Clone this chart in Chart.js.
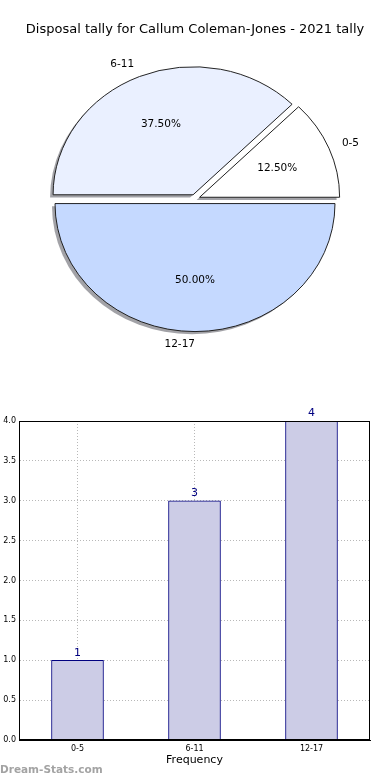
<!DOCTYPE html>
<html>
<head>
<meta charset="utf-8">
<script src="https://cdn.jsdelivr.net/npm/chart.js@4/dist/chart.umd.min.js"></script>
<style>
    html, body { margin: 0; padding: 0; background: #fff; }
    body { width: 390px; height: 780px; position: relative; overflow: hidden; }
    #pie-wrap { position: absolute; left: 0; top: 0; width: 390px; height: 380px; }
    #bar-wrap { position: absolute; left: 0; top: 380px; width: 390px; height: 400px; }
</style>
</head>
<body>
<div id="pie-wrap"><canvas id="pie-canvas"></canvas></div>
<div id="bar-wrap"><canvas id="bar-canvas"></canvas></div>
<script>
// ========== Data
let ageBands = ['0-5', '6-11', '12-17'];
let disposalCounts = [1, 3, 4];
let yTicks = [0, 0.5, 1, 1.5, 2, 2.5, 3, 3.5, 4];
let chartTitle = 'Disposal tally for Callum Coleman-Jones - 2021 tally';

// ========== Colors
let sliceColors = ['#FFFFFF', '#EAF0FF', '#C5D9FF'];
let barFill = '#CCCCE6';
let barEdge = '#000080';
let gridColor = '#b8b8b8';
let fontFamily = "'DejaVu Sans', sans-serif";

Chart.defaults.font.family = fontFamily;
Chart.defaults.color = '#000';
Chart.defaults.animation = false;

// pie is drawn a bit flatter than a circle, like the reference
let squash = 128 / 140;
// how far each wedge is pulled out (px), like matplotlib explode
let explodePx = 5;

// @ ========== Pie
function renderPie() {
    // matplotlib goes counter-clockwise from 3 o'clock, Chart.js clockwise, so flip order
    let order = [2, 1, 0];
    let total = disposalCounts.reduce((a, b) => a + b, 0);

    let ellipsePlugin = {
        id: 'ellipse',
        beforeDatasetsDraw(chart) {
            let ctx = chart.ctx;
            let arcs = chart.getDatasetMeta(0).data;
            let cx = arcs[0].x, cy = arcs[0].y;

            // Chart.js' own offset also grows the radius, so shift each wedge ourselves
            arcs.forEach(arc => {
                if (arc._exploded) return;
                let baseDraw = arc.draw;
                arc.draw = function (c, area) {
                    let mid = (this.startAngle + this.endAngle) / 2;
                    c.save();
                    c.translate(Math.cos(mid) * explodePx, Math.sin(mid) * explodePx);
                    baseDraw.call(this, c, area);
                    c.restore();
                };
                arc._exploded = true;
            });

            ctx.save();
            ctx.translate(cx, cy);
            ctx.scale(1, squash);
            ctx.translate(-cx, -cy);
            // shadows under all the wedges
            ctx.save();
            ctx.translate(-3, 3);
            ctx.fillStyle = 'rgba(70,70,80,0.5)';
            arcs.forEach(arc => {
                let mid = (arc.startAngle + arc.endAngle) / 2;
                let ox = arc.x + Math.cos(mid) * explodePx;
                let oy = arc.y + Math.sin(mid) * explodePx;
                ctx.beginPath();
                ctx.moveTo(ox, oy);
                ctx.arc(ox, oy, arc.outerRadius, arc.startAngle, arc.endAngle);
                ctx.closePath();
                ctx.fill();
            });
            ctx.restore();
        },
        afterDatasetsDraw(chart) {
            let ctx = chart.ctx;
            ctx.restore();
            let arcs = chart.getDatasetMeta(0).data;
            ctx.save();
            ctx.font = '10.5px ' + fontFamily;
            ctx.fillStyle = '#000';
            ctx.textBaseline = 'middle';
            arcs.forEach((arc, i) => {
                let idx = order[i];
                let mid = (arc.startAngle + arc.endAngle) / 2;
                let c = Math.cos(mid), s = Math.sin(mid);
                // category label outside
                let lr = arc.outerRadius * 1.1 + explodePx;
                ctx.textAlign = c > 0.01 ? 'left' : 'right';
                ctx.fillText(ageBands[idx], arc.x + c * lr, arc.y + s * lr * squash);
                // percent inside
                let pr = arc.outerRadius * 0.6 + explodePx;
                ctx.textAlign = 'center';
                let pct = (disposalCounts[idx] / total * 100).toFixed(2) + '%';
                ctx.fillText(pct, arc.x + c * pr, arc.y + s * pr * squash);
            });
            ctx.restore();
        }
    };

    let pieCanvas = document.getElementById('pie-canvas');
    return new Chart(pieCanvas, {
        type: 'pie',
        data: {
            labels: order.map(i => ageBands[i]),
            datasets: [{
                data: order.map(i => disposalCounts[i]),
                backgroundColor: order.map(i => sliceColors[i]),
                borderColor: '#1a1a1a',
                borderWidth: 1,
                offset: 0,
                hoverOffset: 0
            }]
        },
        options: {
            responsive: true,
            maintainAspectRatio: false,
            rotation: 90,
            radius: 140,
            layout: { padding: { bottom: 19.8 } },
            events: [],
            plugins: {
                legend: { display: false },
                tooltip: { enabled: false },
                title: {
                    display: true,
                    text: chartTitle,
                    color: '#000',
                    font: { family: fontFamily, size: 13, weight: 'normal' },
                    padding: { top: 22.2, bottom: 0 }
                }
            }
        },
        plugins: [ellipsePlugin]
    });
}

// @ ========== Bars
function renderBars() {
    let barLabelPlugin = {
        id: 'barLabels',
        afterDatasetsDraw(chart) {
            let ctx = chart.ctx;
            ctx.save();
            ctx.font = '11px ' + fontFamily;
            ctx.fillStyle = barEdge;
            ctx.textAlign = 'center';
            ctx.textBaseline = 'bottom';
            chart.getDatasetMeta(0).data.forEach((bar, i) => {
                ctx.fillText(String(disposalCounts[i]), bar.x, bar.y - 2);
            });
            ctx.restore();
        },
        afterDraw(chart) {
            let ctx = chart.ctx;
            let a = chart.chartArea;
            ctx.save();
            ctx.strokeStyle = '#000';
            ctx.lineWidth = 1;
            let l = Math.round(a.left) + 0.5, t = Math.round(a.top) + 0.5;
            let r = Math.round(a.right) - 0.5, b = Math.round(a.bottom) - 0.5;
            ctx.strokeRect(l, t, r - l, b - t);
            // watermark
            ctx.font = 'bold 10.5px ' + fontFamily;
            ctx.fillStyle = '#a3a3a3';
            ctx.textAlign = 'left';
            ctx.textBaseline = 'middle';
            ctx.fillText('Dream-Stats.com', 0, 390);
            ctx.restore();
        }
    };

    let barCanvas = document.getElementById('bar-canvas');
    return new Chart(barCanvas, {
        type: 'bar',
        data: {
            labels: ageBands,
            datasets: [{
                data: disposalCounts,
                backgroundColor: barFill,
                borderColor: barEdge,
                borderWidth: 1,
                barThickness: 52
            }]
        },
        options: {
            responsive: true,
            maintainAspectRatio: false,
            events: [],
            layout: { padding: { top: 41, right: 20, left: 0, bottom: 0 } },
            plugins: {
                legend: { display: false },
                tooltip: { enabled: false }
            },
            scales: {
                x: {
                    z: 1,
                    afterFit(scale) { scale.height = 40; },
                    grid: { offset: false, color: gridColor, lineWidth: 1, drawTicks: false },
                    border: { display: true, color: '#000', dash: [1, 2] },
                    ticks: { font: { size: 8 }, color: '#000', padding: 4, maxRotation: 0 },
                    title: {
                        display: true,
                        text: 'Frequency',
                        color: '#000',
                        font: { size: 11 },
                        padding: { top: 0, bottom: 13 }
                    }
                },
                y: {
                    z: 1,
                    min: 0,
                    max: 4,
                    afterFit(scale) { scale.width = 19; },
                    afterBuildTicks(scale) { scale.ticks = yTicks.map(v => ({ value: v })); },
                    grid: { color: gridColor, lineWidth: 1, drawTicks: false },
                    border: { display: true, color: '#000', dash: [1, 2] },
                    ticks: {
                        font: { size: 8 },
                        color: '#000',
                        padding: 3,
                        callback: v => Number(v).toFixed(1)
                    }
                }
            }
        },
        plugins: [barLabelPlugin]
    });
}

renderPie();
renderBars();
</script>
</body>
</html>
